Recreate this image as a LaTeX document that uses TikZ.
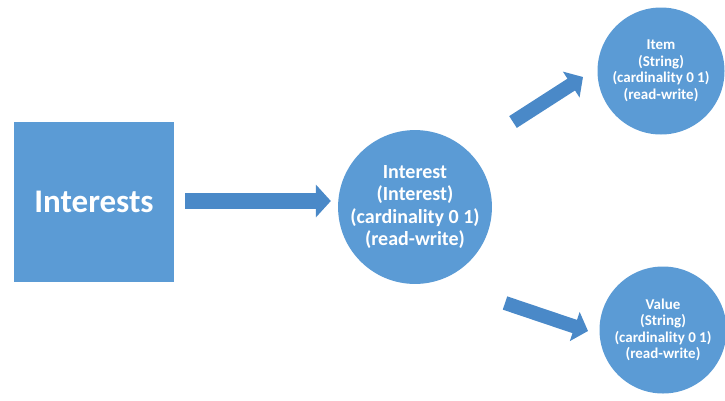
\documentclass[tikz,border=0pt]{standalone}
\usepackage{fontspec}
\setmainfont{Carlito}
\usepackage{tikz}
\usetikzlibrary{arrows.meta,positioning}
\definecolor{office-blue}{HTML}{5B9BD5}
\definecolor{arrow-blue}{HTML}{4A89C8}

\begin{document}
\begin{tikzpicture}[x=1pt,y=-1pt,
  bigcircle/.style={circle, fill=office-blue, text=white, font=\bfseries\fontsize{20}{22.5}\selectfont, align=center, minimum size=145pt, inner sep=0pt},
  smallcircle/.style={circle, fill=office-blue, text=white, font=\bfseries\fontsize{15}{16.5}\selectfont, align=center, minimum size=127pt, inner sep=0pt},
  blockarrow/.style={draw=arrow-blue, line width=16pt, -{Triangle[length=15pt,width=32pt]}}]

\useasboundingbox (0,0) rectangle (725,400);

\node[rectangle, fill=office-blue, text=white, font=\bfseries\fontsize{33}{36}\selectfont, minimum size=160pt, inner sep=0pt] (interests) at (94,202) {Interests};
\node[bigcircle] (interest) at (415,207) {Interest\\(Interest)\\(cardinality 0 1)\\(read-write)};
\node[smallcircle] (item) at (661,71) {Item\\(String)\\(cardinality 0 1)\\(read-write)};
\node[smallcircle] (value) at (663,330) {Value\\(String)\\(cardinality 0 1)\\(read-write)};

% free ends of the slanted arrows
\coordinate (up-start) at (513,122);
\coordinate (up-end) at (583,77);
\coordinate (down-start) at (505,303);
\coordinate (down-end) at (588,331);

\draw[blockarrow, shorten <=11pt, shorten >=7pt] (interests.east |- 0,201) -- (interest.west |- 0,201);
\draw[blockarrow, line width=14pt, -{Triangle[length=14pt,width=30pt]}] (up-start) -- (up-end);
\draw[blockarrow, line width=14pt, -{Triangle[length=14pt,width=30pt]}] (down-start) -- (down-end);

\end{tikzpicture}
\end{document}
